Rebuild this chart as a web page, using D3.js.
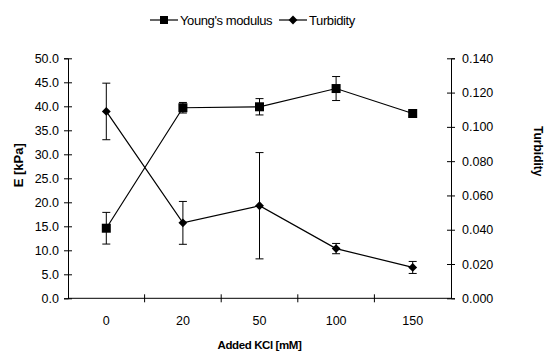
<!DOCTYPE html>
<html>
<head>
<meta charset="utf-8">
<script src="https://cdn.jsdelivr.net/npm/d3@7"></script>
<style>
  body { margin: 0; background: #fff; }
  svg { font-family: "Liberation Sans", Arial, sans-serif; }
  .axis path, .axis line { stroke: #000; stroke-width: 1; }
  .axis text { font-size: 12.5px; fill: #000; }
</style>
</head>
<body>
<svg id="chart" width="547" height="353"></svg>
<script>
const kcl = ['0', '20', '50', '100', '150'];
const modulus = [14.6, 39.7, 39.9, 43.7, 38.5];
const modulusErr = [3.3, 1.1, 1.7, 2.5, 0.5];
const turbidity = [0.109, 0.044, 0.054, 0.029, 0.018];
const turbidityErr = [0.0165, 0.0125, 0.031, 0.003, 0.0035];
const leftTicks = [0, 5, 10, 15, 20, 25, 30, 35, 40, 45, 50];
const rightTicks = [0, 0.02, 0.04, 0.06, 0.08, 0.1, 0.12, 0.14];

const svg = d3.select('#chart');
const pLeft = 68, pRight = 451, pTop = 58.3, pBottom = 298.3;

const x = d3.scaleBand().domain(kcl).range([pLeft, pRight]);
const yL = d3.scaleLinear().domain([0, 50]).range([pBottom, pTop]);
const yR = d3.scaleLinear().domain([0, 0.14]).range([pBottom, pTop]);

// axes
const gL = svg.append('g').attr('class', 'axis').attr('transform', `translate(${pLeft},0)`)
    .call(d3.axisLeft(yL).tickValues(leftTicks).tickFormat(d3.format('.1f')).tickSizeOuter(0).tickSize(4).tickPadding(5));
gL.selectAll('.tick line').attr('x1', 4);

const gR = svg.append('g').attr('class', 'axis').attr('transform', `translate(${pRight},0)`)
    .call(d3.axisRight(yR).tickValues(rightTicks).tickFormat(d3.format('.3f')).tickSizeOuter(0).tickSize(4).tickPadding(7));
gR.selectAll('.tick line').attr('x1', -4);

const gX = svg.append('g').attr('class', 'axis').attr('transform', `translate(0,${pBottom})`)
    .call(d3.axisBottom(x).tickSize(0).tickSizeOuter(0));
gX.selectAll('.tick text').attr('y', 18);
gX.selectAll('.bound').data(kcl.slice(1)).enter().append('line')
    .attr('x1', d => x(d)).attr('x2', d => x(d)).attr('y1', -4).attr('y2', 4).attr('stroke', '#000');
gX.selectAll('path').attr('d', `M${pLeft},0H${pRight}`);

svg.selectAll('.domain').attr('stroke', '#000');

// titles
svg.append('text').attr('transform', `translate(23,${(pTop + pBottom) / 2 - 13}) rotate(-90)`)
    .attr('text-anchor', 'middle').attr('font-size', 13).attr('font-weight', 'bold').text('E [kPa]');
svg.append('text').attr('transform', `translate(534,${(pTop + pBottom) / 2 - 27}) rotate(90)`)
    .attr('text-anchor', 'middle').attr('font-size', 12).attr('font-weight', 'bold').text('Turbidity');
svg.append('text').attr('x', (pLeft + pRight) / 2).attr('y', 349)
    .attr('text-anchor', 'middle').attr('font-size', 11.5).attr('font-weight', 'bold')
    .attr('letter-spacing', -0.4).text('Added KCl [mM]');

const cx = d => x(d) + x.bandwidth() / 2;
const line = d3.line();
const diamond = d3.symbol().type(d3.symbolDiamond2).size(50);

function drawSeries(vals, errs, y, shape) {
    const g = svg.append('g');
    g.append('path')
        .attr('d', line(kcl.map((k, i) => [cx(k), y(vals[i])])))
        .attr('fill', 'none').attr('stroke', '#000').attr('stroke-width', 1.2);
    const e = g.selectAll('.err').data(kcl).enter().append('g');
    e.append('line').attr('x1', cx).attr('x2', cx)
        .attr('y1', (k, i) => y(vals[i] - errs[i])).attr('y2', (k, i) => y(vals[i] + errs[i]))
        .attr('stroke', '#000');
    [-1, 1].forEach(s => {
        e.append('line').attr('x1', k => cx(k) - 4).attr('x2', k => cx(k) + 4)
            .attr('y1', (k, i) => y(vals[i] + s * errs[i])).attr('y2', (k, i) => y(vals[i] + s * errs[i]))
            .attr('stroke', '#000');
    });
    if (shape === 'square') {
        g.selectAll('.m').data(kcl).enter().append('rect')
            .attr('x', k => cx(k) - 4.5).attr('y', (k, i) => y(vals[i]) - 4.5)
            .attr('width', 9).attr('height', 9).attr('fill', '#000');
    } else {
        g.selectAll('.m').data(kcl).enter().append('path')
            .attr('transform', (k, i) => `translate(${cx(k)},${y(vals[i])})`)
            .attr('d', diamond).attr('fill', '#000');
    }
}

drawSeries(modulus, modulusErr, yL, 'square');
drawSeries(turbidity, turbidityErr, yR, 'diamond');

// legend
const legend = [
    { name: "Young's modulus", shape: 'square', x0: 150 },
    { name: 'Turbidity', shape: 'diamond', x0: 279 }
];
const lg = svg.append('g').selectAll('g').data(legend).enter().append('g')
    .attr('transform', d => `translate(${d.x0},20)`);
lg.append('line').attr('x1', 0).attr('x2', 28).attr('stroke', '#000').attr('stroke-width', 1.2);
lg.filter(d => d.shape === 'square').append('rect')
    .attr('x', 10).attr('y', -4).attr('width', 8).attr('height', 8).attr('fill', '#000');
lg.filter(d => d.shape === 'diamond').append('path')
    .attr('transform', 'translate(14,0)').attr('d', diamond).attr('fill', '#000');
lg.append('text').attr('x', 30).attr('y', 4.5).attr('font-size', 13)
    .attr('letter-spacing', -0.4).text(d => d.name);
</script>
</body>
</html>
